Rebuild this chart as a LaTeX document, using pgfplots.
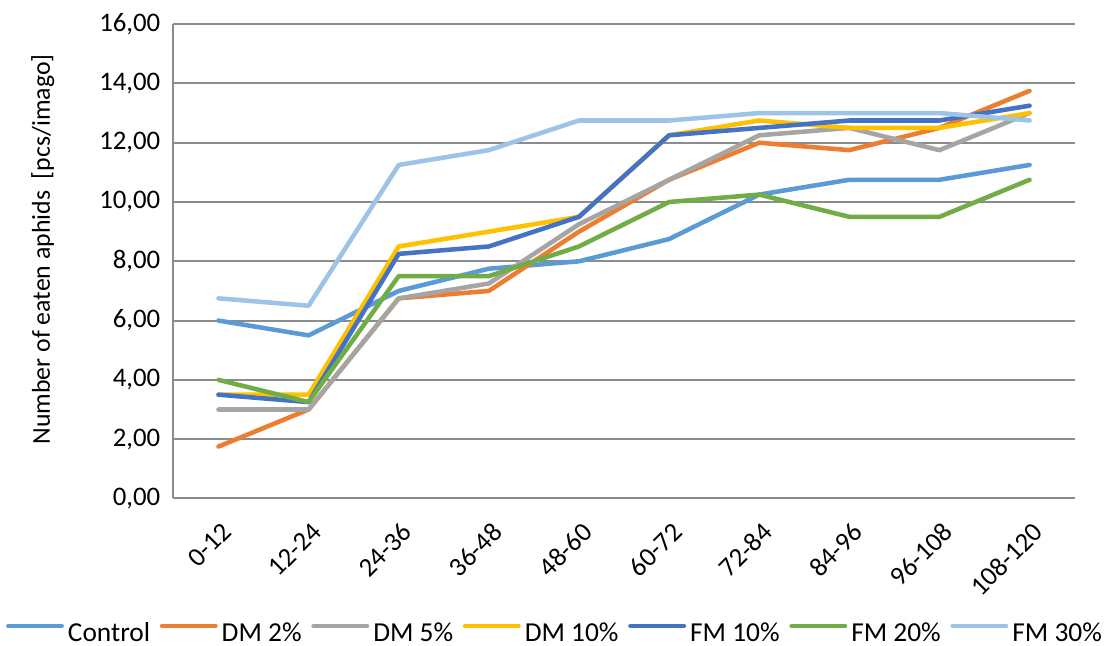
\documentclass[border=0pt]{standalone}
\usepackage{pgfplots}
\pgfplotsset{compat=1.18}
\usepackage{fontspec}
\setmainfont{Carlito}
\definecolor{cControl}{HTML}{5B9BD5}
\definecolor{cDMtwo}{HTML}{ED7D31}
\definecolor{cDMfive}{HTML}{A5A5A5}
\definecolor{cDMten}{HTML}{FFC000}
\definecolor{cFMten}{HTML}{4472C4}
\definecolor{cFMtwenty}{HTML}{70AD47}
\definecolor{cFMthirty}{HTML}{9DC3E6}
\definecolor{gridc}{HTML}{8C8C8C}
\begin{document}
\begin{tikzpicture}
\begin{axis}[
  scale only axis,
  width=447.5pt, height=235.5pt,
  xmin=-0.5, xmax=9.5,
  ymin=0, ymax=16,
  ytick={0,2,...,16},
  xtick={0,...,9},
  xticklabels={0-12,12-24,24-36,36-48,48-60,60-72,72-84,84-96,96-108,108-120},
  axis x line*=bottom,
  axis y line*=left,
  axis line style={gridc, line width=1pt},
  x axis line style={-}, y axis line style={-},
  ymajorgrids,
  grid style={gridc, line width=1pt},
  major tick length=0pt,
  tick style={draw=none},
  font=\fontsize{13.3}{16}\selectfont,
  yticklabel={\pgfmathprintnumber[fixed, fixed zerofill, precision=2, use comma, assume math mode=true]{\tick}},
  yticklabel style={xshift=-3pt},
  xticklabel style={xshift=1pt, yshift=-6.3pt, rotate=45, anchor=north east},
  ylabel={Number of eaten aphids~~[pcs/imago]},
  ylabel style={at={(axis description cs:-0.145,0.525)}, anchor=center, font=\fontsize{12.8}{15}\selectfont},
  legend columns=7,
  legend style={at={(0.4223,-0.285)}, anchor=center, draw=none, inner xsep=3pt, inner ysep=0.5pt,
    font=\fontsize{13.6}{16}\selectfont,
    nodes={inner sep=0pt},
    /tikz/every odd column/.append style={column sep=2pt},
    /tikz/every even column/.append style={column sep=4.8pt}},
  legend image code/.code={\draw[#1, line width=2.25pt, line cap=round] (1pt,0.8ex) -- (27.5pt,0.8ex);},
  every axis plot/.append style={line width=2.25pt, line join=round, line cap=round},
]
\addplot[cControl] coordinates {(0,6.0)(1,5.5)(2,7.0)(3,7.75)(4,8.0)(5,8.75)(6,10.25)(7,10.75)(8,10.75)(9,11.25)};
\addlegendentry{Control}
\addplot[cDMtwo] coordinates {(0,1.75)(1,3.0)(2,6.75)(3,7.0)(4,9.0)(5,10.75)(6,12.0)(7,11.75)(8,12.5)(9,13.75)};
\addlegendentry{DM 2\%}
\addplot[cDMfive] coordinates {(0,3.0)(1,3.0)(2,6.75)(3,7.25)(4,9.25)(5,10.75)(6,12.25)(7,12.5)(8,11.75)(9,13.0)};
\addlegendentry{DM 5\%}
\addplot[cDMten] coordinates {(0,3.5)(1,3.5)(2,8.5)(3,9.0)(4,9.5)(5,12.25)(6,12.75)(7,12.5)(8,12.5)(9,13.0)};
\addlegendentry{DM 10\%}
\addplot[cFMten] coordinates {(0,3.5)(1,3.25)(2,8.25)(3,8.5)(4,9.5)(5,12.25)(6,12.5)(7,12.75)(8,12.75)(9,13.25)};
\addlegendentry{FM 10\%}
\addplot[cFMtwenty] coordinates {(0,4.0)(1,3.25)(2,7.5)(3,7.5)(4,8.5)(5,10.0)(6,10.25)(7,9.5)(8,9.5)(9,10.75)};
\addlegendentry{FM 20\%}
\addplot[cFMthirty] coordinates {(0,6.75)(1,6.5)(2,11.25)(3,11.75)(4,12.75)(5,12.75)(6,13.0)(7,13.0)(8,13.0)(9,12.75)};
\addlegendentry{FM 30\%}
\end{axis}
\path ([yshift=12pt]current axis.north);
\end{tikzpicture}
\end{document}
